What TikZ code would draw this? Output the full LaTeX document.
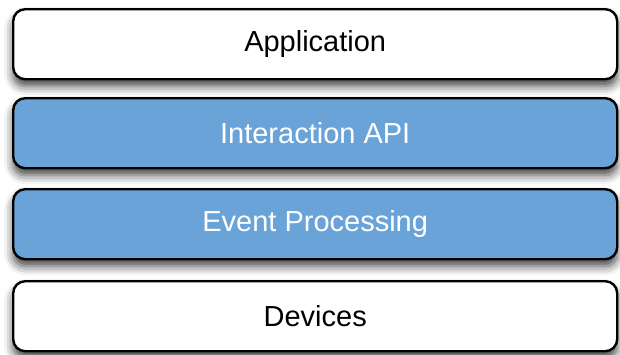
\documentclass[tikz,border=0pt]{standalone}
\usepackage{fontspec}
\setmainfont{Liberation Sans}
\usetikzlibrary{shadows.blur}
\definecolor{layerblue}{HTML}{69A3D8}
\begin{document}
\begin{tikzpicture}[x=1pt,y=-1pt,
  layer/.style={draw=black, line width=2.4pt, rounded corners=12pt,
    minimum width=604pt, minimum height=70pt, inner sep=0pt,
    font=\fontsize{29}{34}\selectfont, anchor=north west,
    blur shadow={shadow xshift=0pt, shadow yshift=-7pt, shadow blur radius=9pt, shadow opacity=75}},
  plain/.style={layer, fill=white, text=black},
  blue/.style={layer, fill=layerblue, text=white}]
  \useasboundingbox (0,0) rectangle (620,354);
  \node[plain] (app) at (12,8) {Application};
  \node[blue] (api) at (12,97) {Interaction API};
  \node[blue] (evt) at (12,188) {Event Processing};
  \node[plain] (dev) at (12,280) {Devices};
\end{tikzpicture}
\end{document}
